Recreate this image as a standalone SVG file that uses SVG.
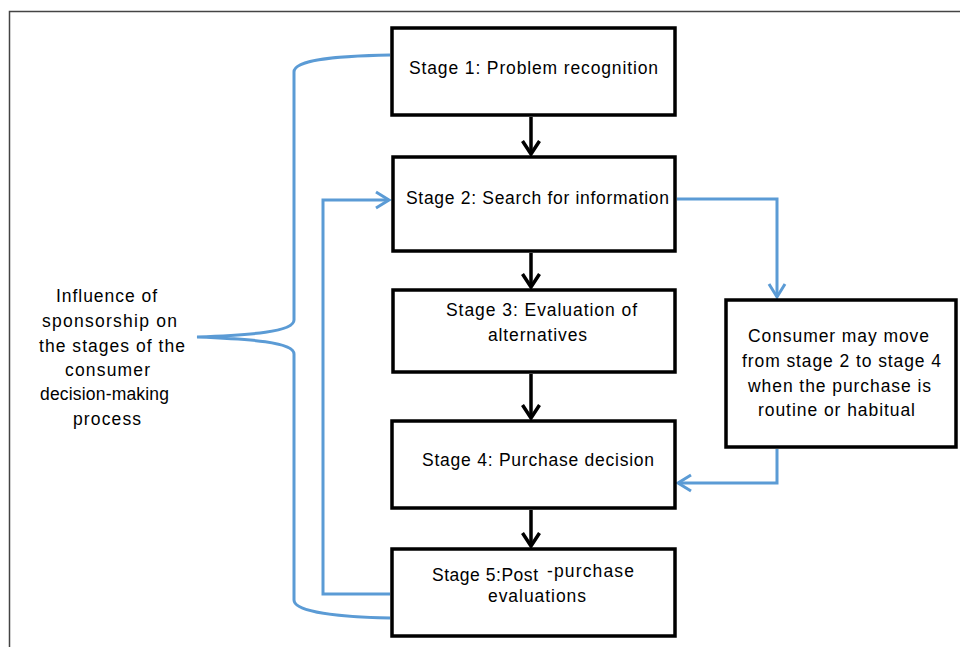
<svg xmlns="http://www.w3.org/2000/svg" width="960" height="647" viewBox="0 0 960 647">
  <style>
    .box { fill: #ffffff; stroke: #000000; stroke-width: 3.5; }
    .txt { font-family: "Liberation Sans", Arial, sans-serif; font-size: 17.5px; fill: #000000; }
    .blk { fill: none; stroke: #000000; stroke-width: 3.5; }
    .blu { fill: none; stroke: #5B9BD5; stroke-width: 3; }
    .frame { fill: none; stroke: #444444; stroke-width: 1.5; }
  </style>
  <defs>
    <marker id="ab" markerUnits="userSpaceOnUse" markerWidth="24" markerHeight="24" viewBox="0 0 24 24" refX="15" refY="12" orient="auto">
      <path d="M2,3.5 L15,12 L2,20.5" fill="none" stroke="#000000" stroke-width="3.5"/>
    </marker>
    <marker id="au" markerUnits="userSpaceOnUse" markerWidth="24" markerHeight="24" viewBox="0 0 24 24" refX="15" refY="12" orient="auto">
      <path d="M2,4 L15,12 L2,20" fill="none" stroke="#5B9BD5" stroke-width="3"/>
    </marker>
  </defs>
  <rect width="960" height="647" fill="#ffffff"/>
  <path class="frame" d="M9.5,647 L9.5,11.5 L960,11.5"/>

  <g id="connectors">
    <line class="blk" x1="531" y1="117" x2="531" y2="154" marker-end="url(#ab)"/>
    <line class="blk" x1="531" y1="253" x2="531" y2="287" marker-end="url(#ab)"/>
    <line class="blk" x1="531" y1="374" x2="531" y2="418" marker-end="url(#ab)"/>
    <line class="blk" x1="531" y1="510" x2="531" y2="546" marker-end="url(#ab)"/>
    <path class="blu" d="M677,199 L777,199 L777,297" marker-end="url(#au)"/>
    <path class="blu" d="M777,449 L777,483 L678,483" marker-end="url(#au)"/>
    <path class="blu" d="M390,594 L323,594 L323,200 L389,200" marker-end="url(#au)"/>
    <path class="blu" d="M390,55 C340,56 294,59 294,72 L294,320 C294,332 250,335 197,337 C250,339 294,342 294,354 L294,600 C294,612 340,617 390,618"/>
  </g>

  <g id="stage1">
    <rect class="box" x="392" y="28" width="283" height="87"/>
    <text class="txt" x="409" y="74" textLength="249" lengthAdjust="spacing">Stage 1: Problem recognition</text>
  </g>
  <g id="stage2">
    <rect class="box" x="393" y="157" width="282" height="94"/>
    <text class="txt" x="406" y="204" textLength="263" lengthAdjust="spacing">Stage 2: Search for information</text>
  </g>
  <g id="stage3">
    <rect class="box" x="393" y="290" width="282" height="82"/>
    <text class="txt" x="446" y="316" textLength="191" lengthAdjust="spacing">Stage 3:  Evaluation of</text>
    <text class="txt" x="488" y="341" textLength="99" lengthAdjust="spacing">alternatives</text>
  </g>
  <g id="stage4">
    <rect class="box" x="392" y="421" width="283" height="87"/>
    <text class="txt" x="422" y="466" textLength="232" lengthAdjust="spacing">Stage 4: Purchase decision</text>
  </g>
  <g id="stage5">
    <rect class="box" x="392" y="549" width="283" height="87"/>
    <text class="txt" x="432" y="581" textLength="106" lengthAdjust="spacing">Stage 5:Post</text>
    <text class="txt" x="547" y="577" textLength="87" lengthAdjust="spacing">-purchase</text>
    <text class="txt" x="488" y="602" textLength="98" lengthAdjust="spacing">evaluations</text>
  </g>
  <g id="routine">
    <rect class="box" x="726" y="300" width="230" height="147"/>
    <text class="txt" x="748" y="342" textLength="181" lengthAdjust="spacing">Consumer may move</text>
    <text class="txt" x="742" y="367" textLength="199" lengthAdjust="spacing">from stage 2 to stage 4</text>
    <text class="txt" x="748" y="392" textLength="183" lengthAdjust="spacing">when the purchase is</text>
    <text class="txt" x="758" y="416" textLength="157" lengthAdjust="spacing">routine or habitual</text>
  </g>
  <g id="influence">
    <text class="txt" x="56" y="302" textLength="101" lengthAdjust="spacing">Influence of</text>
    <text class="txt" x="42" y="327" textLength="135" lengthAdjust="spacing">sponsorship on</text>
    <text class="txt" x="39" y="352" textLength="146" lengthAdjust="spacing">the stages of the</text>
    <text class="txt" x="65" y="376" textLength="85" lengthAdjust="spacing">consumer</text>
    <text class="txt" x="40" y="400" textLength="129" lengthAdjust="spacing">decision-making</text>
    <text class="txt" x="73" y="425" textLength="68" lengthAdjust="spacing">process</text>
  </g>
</svg>
